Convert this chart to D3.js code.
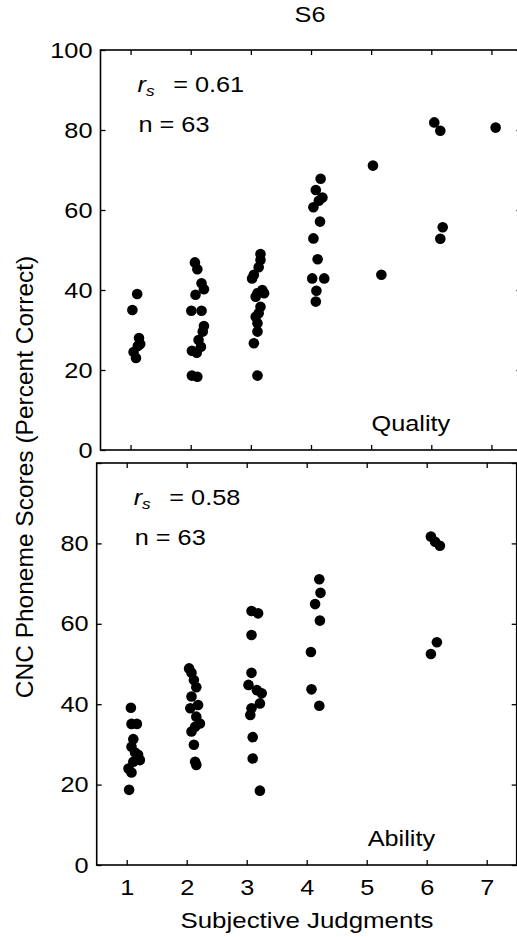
<!DOCTYPE html>
<html>
<head>
<meta charset="utf-8">
<script src="https://cdn.jsdelivr.net/npm/d3@7"></script>
<style>
  body { margin: 0; background: #fff; }
  text { font-family: "Liberation Sans", Arial, sans-serif; fill: #000; }
</style>
</head>
<body>
<script>

// subjective judgment categories and y ticks
var judgments = [1, 2, 3, 4, 5, 6, 7];
var yTicks = [0, 20, 40, 60, 80, 100];

// Quality panel (x = judgment with jitter, y = percent correct)
var qualityX = [1.11, 1.03, 1.14, 1.16, 1.12, 1.05, 1.09,
    2.07, 2.11, 2.18, 2.22, 2.08, 2.01, 2.18, 2.22, 2.20, 2.13, 2.17, 2.02, 2.10, 2.02, 2.11,
    3.16, 3.16, 3.13, 3.05, 3.02, 3.19, 3.11, 3.22, 3.08, 3.16, 3.13, 3.08, 3.11, 3.11, 3.05, 3.11,
    4.16, 4.08, 4.19, 4.13, 4.04, 4.15, 4.04, 4.11, 4.02, 4.22, 4.09, 4.08,
    5.03, 5.17,
    6.05, 6.15, 6.19, 6.15,
    7.07];
var qualityY = [39, 35, 28, 26.5, 26, 24.5, 23,
    46.9, 45.2, 41.7, 40.2, 38.8, 34.8, 34.8, 31, 29.6, 27.5, 25.8, 24.8, 24.3, 18.6, 18.3,
    49, 47.5, 45.7, 43.8, 42.9, 40, 39.2, 39.2, 38.3, 35.8, 34.2, 33.3, 31.7, 29.6, 26.7, 18.6,
    67.8, 65, 63.1, 62.3, 60.7, 57.1, 52.9, 47.7, 42.9, 42.9, 39.8, 37.1,
    71.1, 43.8,
    81.9, 79.8, 55.7, 52.8,
    80.6];

// Ability panel
var abilityX = [1.07, 1.08, 1.17, 1.11, 1.08, 1.14, 1.19, 1.22, 1.11, 1.03, 1.08, 1.04,
    2.04, 2.08, 2.12, 2.16, 2.08, 2.19, 2.06, 2.16, 2.22, 2.14, 2.08, 2.12, 2.14, 2.16,
    3.08, 3.19, 3.08, 3.08, 3.03, 3.17, 3.25, 3.22, 3.08, 3.06, 3.10, 3.10, 3.22,
    4.21, 4.23, 4.14, 4.22, 4.07, 4.08, 4.21,
    6.07, 6.14, 6.22, 6.17, 6.07];
var abilityY = [39.1, 35.1, 35.1, 31.3, 29.4, 28, 27.4, 26.1, 25.7, 24, 23, 18.7,
    48.9, 47.8, 46, 44.2, 41.9, 39.8, 39, 36.9, 35.2, 34.4, 33.2, 29.9, 25.7, 24.9,
    63.2, 62.6, 57.2, 47.8, 44.8, 43.5, 42.7, 40.2, 39, 37.3, 31.8, 26.5, 18.5,
    71.1, 67.7, 64.9, 60.8, 53, 43.7, 39.6,
    81.7, 80.4, 79.4, 55.4, 52.5];

var width = 517,
    height = 937;

var svg = d3.select("body").append("svg")
    .attr("width", width)
    .attr("height", height);

// the scanned figure is a bit wider than tall, so stretch text sideways
var stretch = "scale(1.15,1)";

var panels = [
    {x0: 100.5, x1: 521.5, y0: 50, y1: 450, xs: qualityX, ys: qualityY, rs: "0.61", n: "63", name: "Quality", xLabels: false, hide100: false},
    {x0: 96.7, x1: 516.7, y0: 463, y1: 865, xs: abilityX, ys: abilityY, rs: "0.58", n: "63", name: "Ability", xLabels: true, hide100: true}
];

panels.forEach(function(p) {
    var x = d3.scaleLinear().domain([0.5, 7.5]).range([p.x0, p.x1]);
    var y = d3.scaleLinear().domain([0, 100]).range([p.y1, p.y0]);

    var g = svg.append("g");

    // inward ticks on all four sides
    var left = g.append("g").attr("transform", "translate(" + p.x0 + ",0)")
        .call(d3.axisLeft(y).tickValues(yTicks).tickSize(-5).tickSizeOuter(0).tickPadding(7)
            .tickFormat(function(d) { return (p.hide100 && d === 100) ? "" : d; }));
    left.selectAll("text")
        .style("font-size", "22px")
        .attr("transform", stretch);

    g.append("g").attr("transform", "translate(" + p.x1 + ",0)")
        .call(d3.axisRight(y).tickValues(yTicks).tickSize(-5).tickSizeOuter(0).tickFormat(""));

    g.append("g").attr("transform", "translate(0," + p.y0 + ")")
        .call(d3.axisTop(x).tickValues(judgments).tickSize(-5).tickSizeOuter(0).tickFormat(""));

    var bottom = g.append("g").attr("transform", "translate(0," + p.y1 + ")")
        .call(d3.axisBottom(x).tickValues(judgments).tickSize(-5).tickSizeOuter(0).tickPadding(14)
            .tickFormat(d3.format("d")));
    bottom.selectAll("text")
        .style("font-size", "22px")
        .attr("transform", stretch);
    if (!p.xLabels) bottom.selectAll("text").remove();

    g.selectAll(".domain").remove();
    g.selectAll(".tick line").attr("stroke", "#000").attr("stroke-width", 1.3);

    // frame
    g.append("rect")
        .attr("x", p.x0).attr("y", p.y0)
        .attr("width", p.x1 - p.x0).attr("height", p.y1 - p.y0)
        .attr("fill", "none").attr("stroke", "#000").attr("stroke-width", 1.6);

    // points
    g.selectAll("circle")
        .data(p.xs.map(function(v, i) { return [v, p.ys[i]]; }))
        .enter().append("circle")
        .attr("cx", function(d) { return x(d[0]); })
        .attr("cy", function(d) { return y(d[1]); })
        .attr("r", 5.3)
        .attr("fill", "#000");

    // r_s and n annotation
    var rs = g.append("text")
        .attr("transform", "translate(" + (p.x0 + 37) + "," + (p.y0 + 42) + ") " + stretch)
        .style("font-size", "22px");
    rs.append("tspan").style("font-style", "italic").text("r");
    rs.append("tspan").style("font-style", "italic").style("font-size", "15px").attr("dy", 4).text("s");
    rs.append("tspan").attr("x", 31).attr("dy", -4).text("= " + p.rs);

    g.append("text")
        .attr("transform", "translate(" + (p.x0 + 38) + "," + (p.y0 + 81.5) + ") " + stretch)
        .style("font-size", "22px")
        .text("n = " + p.n);

    g.append("text")
        .attr("transform", "translate(" + (p.x0 + 271) + "," + (p.y1 - 19) + ") " + stretch)
        .style("font-size", "22px")
        .text(p.name);
});

// titles
svg.append("text")
    .attr("transform", "translate(310,22) " + stretch)
    .attr("text-anchor", "middle")
    .style("font-size", "22px")
    .text("S6");

svg.append("text")
    .attr("transform", "translate(307,928) " + stretch)
    .attr("text-anchor", "middle")
    .style("font-size", "22.5px")
    .text("Subjective Judgments");

svg.append("text")
    .attr("transform", "translate(33,477) rotate(-90)")
    .attr("text-anchor", "middle")
    .style("font-size", "24.5px")
    .text("CNC Phoneme Scores (Percent Correct)");

</script>
</body>
</html>
